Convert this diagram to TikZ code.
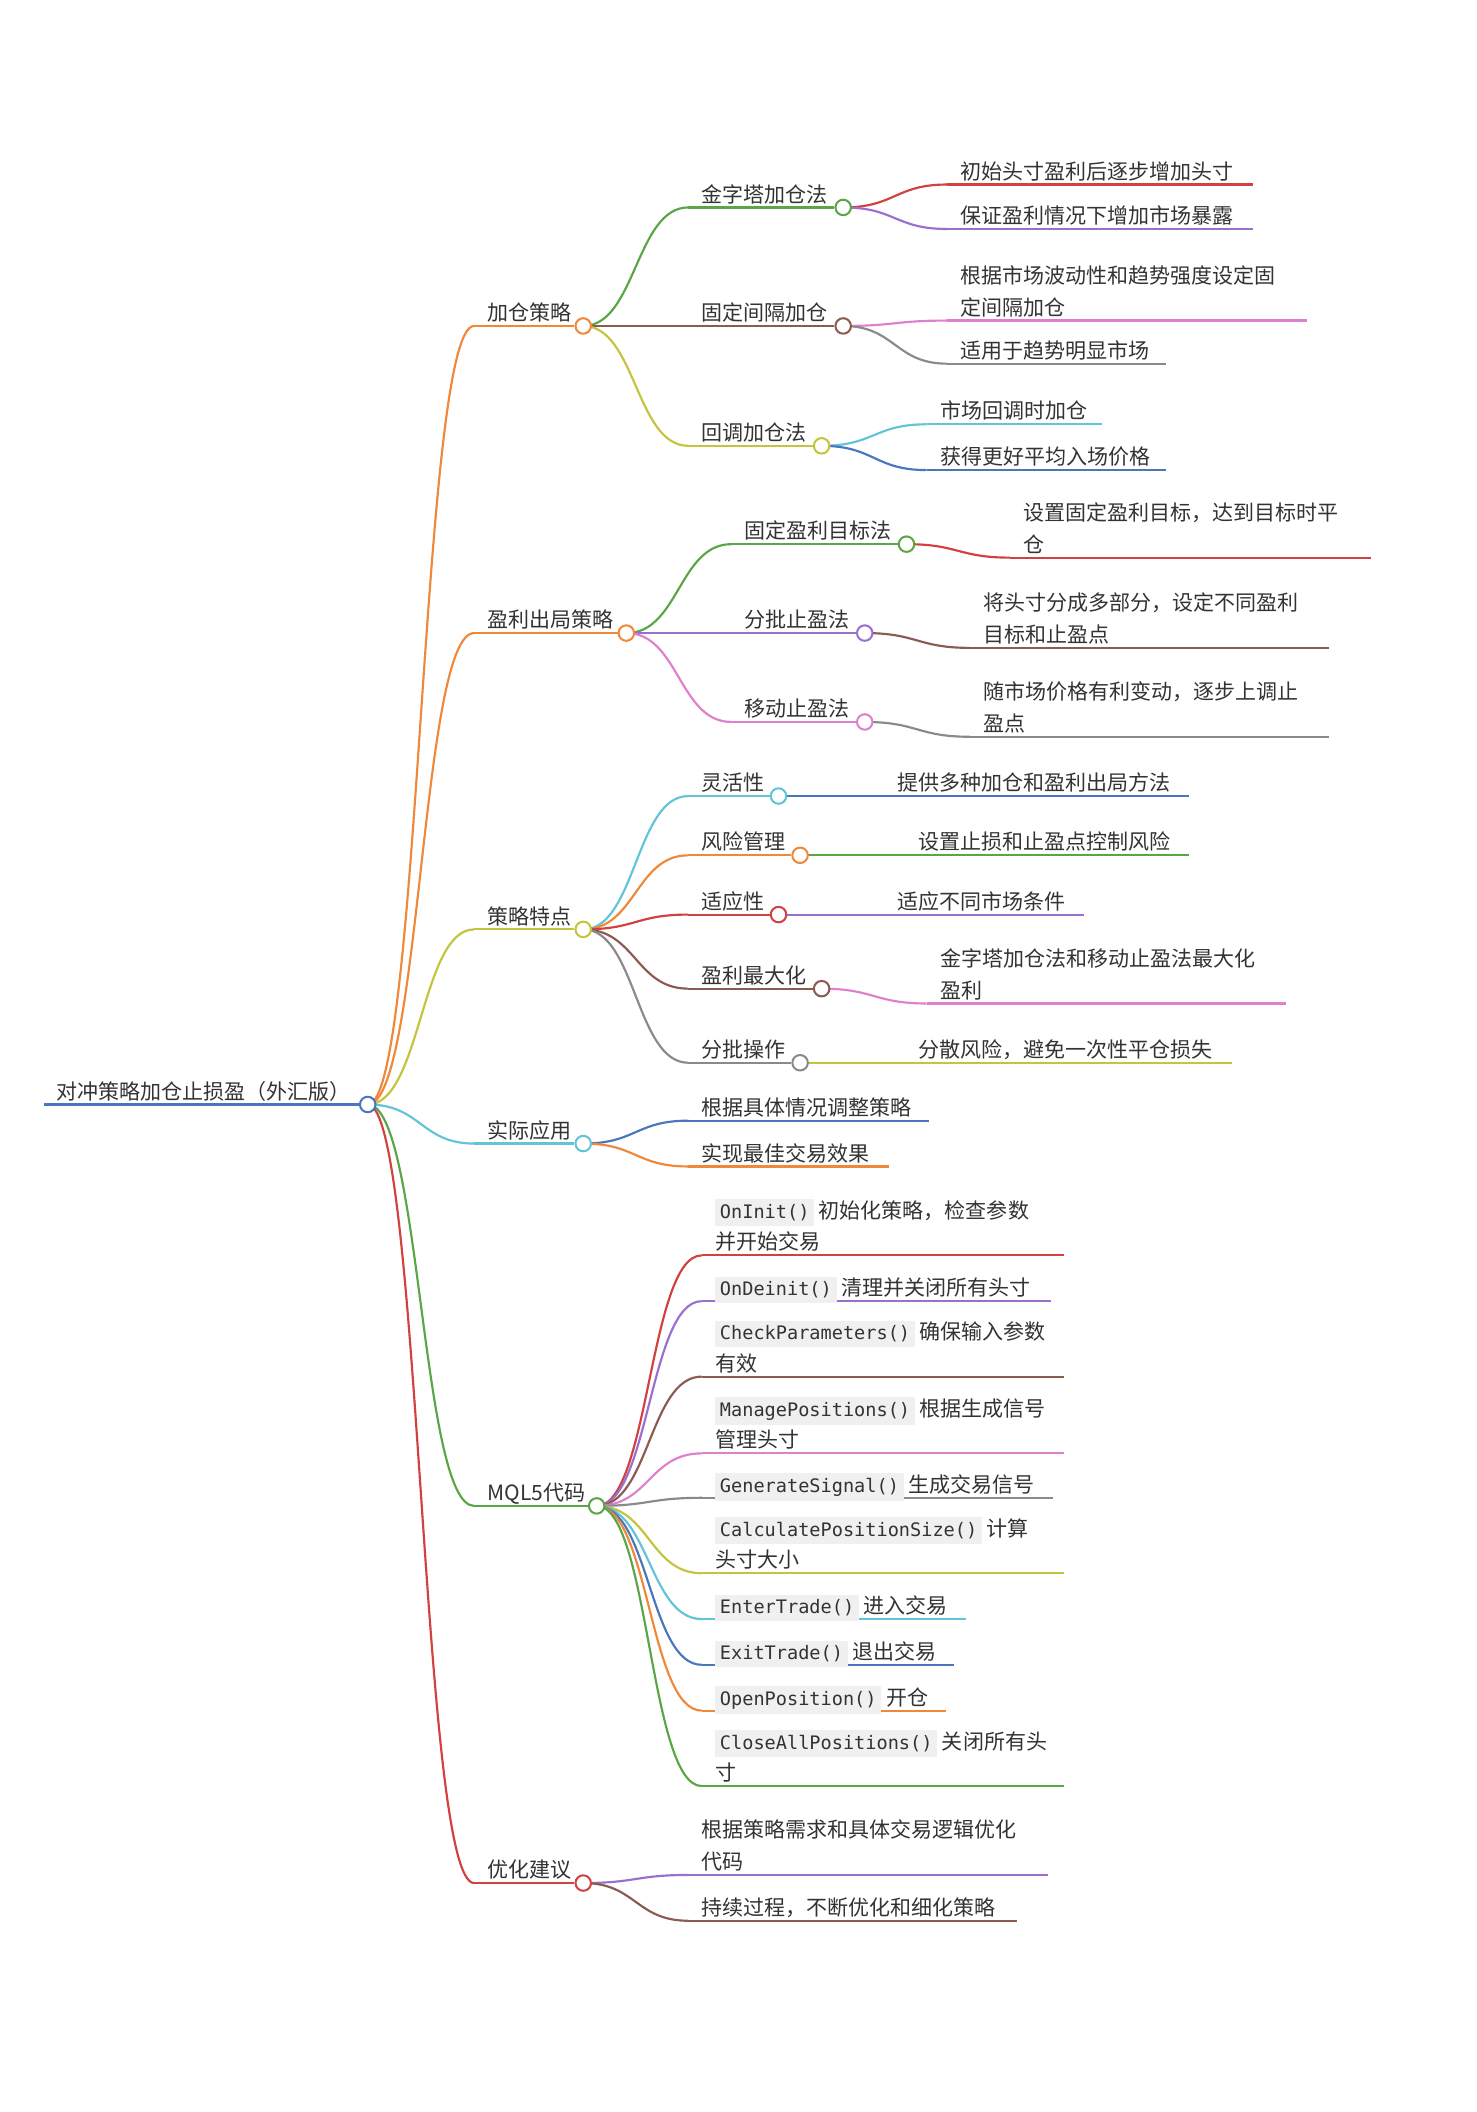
\documentclass[tikz,border=0pt]{standalone}
\usepackage{fontspec}
\setmainfont{Noto Sans CJK SC}
\newfontfamily\codefont{DejaVu Sans Mono}
\usetikzlibrary{calc}
\pgfdeclarelayer{bg}
\pgfsetlayers{bg,main}
\definecolor{mmblue}{HTML}{4A76BE}
\definecolor{mmorange}{HTML}{F0883A}
\definecolor{mmgreen}{HTML}{5AA646}
\definecolor{mmred}{HTML}{D0413F}
\definecolor{mmpurple}{HTML}{9A6FCF}
\definecolor{mmbrown}{HTML}{8B5A50}
\definecolor{mmpink}{HTML}{DE80CC}
\definecolor{mmgray}{HTML}{8A8A8A}
\definecolor{mmolive}{HTML}{C4C43E}
\definecolor{mmcyan}{HTML}{62C4D8}
\definecolor{textgray}{HTML}{333333}
\definecolor{codebg}{HTML}{F0F0F0}
\tikzset{
  dot/.style={circle, draw, fill=white, line width=1.5pt, minimum size=11.5pt, inner sep=0pt},
  lbl/.style={anchor=base west, inner sep=0pt, outer sep=0pt, text=textgray,
    font=\fontsize{15.6}{23.5}\selectfont},
  mmline/.style={line width=1.6pt},
}
\newcommand\tx[1]{\begin{tabular}[b]{@{}l@{}}#1\end{tabular}}
\newcommand\code[1]{{\setlength{\fboxsep}{3.5pt}\colorbox{codebg}{\codefont\fontsize{13.8}{16}\selectfont\rule[-2.2pt]{0pt}{12pt}#1}}}
\newcommand\mmlink[3]{%
  \draw[mmline,#1] let \p1=(#2), \p2=(#3) in (\p1) .. controls ({(\x1+\x2)/2},\y1) and ({(\x1+\x2)/2},\y2) .. (\p2);}
% name, parent, colour, x start, y, x circle, text
\newcommand\mmnode[7]{%
  \coordinate (#1-s) at (#4,#5);
  \node[dot,draw=#3] (#1) at (#6,#5) {};
  \node[lbl] (#1-t) at (#4+10,#5-4) {\tx{#7}};
  \begin{pgfonlayer}{bg}
    \mmlink{#3}{#2}{#1-s}
    \draw[mmline,#3] (#1-s) -- (#1);
  \end{pgfonlayer}}
% name, parent, colour, x start, y, x end, text
\newcommand\mmleaf[7]{%
  \coordinate (#1-s) at (#4,#5);
  \coordinate (#1-e) at (#6,#5);
  \node[lbl] (#1-t) at (#4+10,#5-4) {\tx{#7}};
  \begin{pgfonlayer}{bg}
    \mmlink{#3}{#2}{#1-s}
    \draw[mmline,#3] (#1-s) -- (#1-e);
  \end{pgfonlayer}}
\begin{document}
\begin{tikzpicture}[x=1pt,y=-1pt]
\useasboundingbox (0,0) rectangle (1096,1568);
\begin{pgfonlayer}{bg}
  \fill[white] (0,0) rectangle (1096,1568);
\end{pgfonlayer}
% root
\coordinate (root-s) at (33,820);
\node[dot,draw=mmblue] (root) at (273,820) {};
\node[lbl] (root-t) at (42,816) {\tx{对冲策略加仓止损盈（外汇版）}};
\begin{pgfonlayer}{bg}
  \draw[mmline,mmblue] (root-s) -- (root);
\end{pgfonlayer}
% level 1
\mmnode{A}{root}{mmorange}{352}{242}{433}{加仓策略}
\mmnode{B}{root}{mmorange}{352}{470}{465}{盈利出局策略}
\mmnode{C}{root}{mmolive}{352}{690}{433}{策略特点}
\mmnode{D}{root}{mmcyan}{352}{849}{433}{实际应用}
\mmnode{E}{root}{mmgreen}{352}{1118}{443}{MQL5代码}
\mmnode{F}{root}{mmred}{352}{1398}{433}{优化建议}
% A
\mmnode{A1}{A}{mmgreen}{511}{154}{626}{金字塔加仓法}
\mmnode{A2}{A}{mmbrown}{511}{242}{626}{固定间隔加仓}
\mmnode{A3}{A}{mmolive}{511}{331}{610}{回调加仓法}
\mmleaf{A1a}{A1}{mmred}{703}{137}{930}{初始头寸盈利后逐步增加头寸}
\mmleaf{A1b}{A1}{mmpurple}{703}{170}{930}{保证盈利情况下增加市场暴露}
\mmleaf{A2a}{A2}{mmpink}{703}{238}{970}{根据市场波动性和趋势强度设定固\\定间隔加仓}
\mmleaf{A2b}{A2}{mmgray}{703}{270}{866}{适用于趋势明显市场}
\mmleaf{A3a}{A3}{mmcyan}{688}{315}{818}{市场回调时加仓}
\mmleaf{A3b}{A3}{mmblue}{688}{349}{866}{获得更好平均入场价格}
% B
\mmnode{B1}{B}{mmgreen}{543}{404}{673}{固定盈利目标法}
\mmnode{B2}{B}{mmpurple}{543}{470}{642}{分批止盈法}
\mmnode{B3}{B}{mmpink}{543}{536}{642}{移动止盈法}
\mmleaf{B1a}{B1}{mmred}{750}{414}{1018}{设置固定盈利目标，达到目标时平\\仓}
\mmleaf{B2a}{B2}{mmbrown}{720}{481}{987}{将头寸分成多部分，设定不同盈利\\目标和止盈点}
\mmleaf{B3a}{B3}{mmgray}{720}{547}{987}{随市场价格有利变动，逐步上调止\\盈点}
% C
\mmnode{C1}{C}{mmcyan}{511}{591}{578}{灵活性}
\mmnode{C2}{C}{mmorange}{511}{635}{594}{风险管理}
\mmnode{C3}{C}{mmred}{511}{679}{578}{适应性}
\mmnode{C4}{C}{mmbrown}{511}{734}{610}{盈利最大化}
\mmnode{C5}{C}{mmgray}{511}{789}{594}{分批操作}
\mmleaf{C1a}{C1}{mmblue}{656}{591}{883}{提供多种加仓和盈利出局方法}
\mmleaf{C2a}{C2}{mmgreen}{672}{635}{883}{设置止损和止盈点控制风险}
\mmleaf{C3a}{C3}{mmpurple}{656}{679}{805}{适应不同市场条件}
\mmleaf{C4a}{C4}{mmpink}{688}{745}{955}{金字塔加仓法和移动止盈法最大化\\盈利}
\mmleaf{C5a}{C5}{mmolive}{672}{789}{915}{分散风险，避免一次性平仓损失}
% D
\mmleaf{D1}{D}{mmblue}{511}{832}{690}{根据具体情况调整策略}
\mmleaf{D2}{D}{mmorange}{511}{866}{660}{实现最佳交易效果}
% E
\mmleaf{E1}{E}{mmred}{521}{932}{790}{\code{OnInit()} 初始化策略，检查参数\\并开始交易}
\mmleaf{E2}{E}{mmpurple}{521}{966}{780}{\code{OnDeinit()} 清理并关闭所有头寸}
\mmleaf{E3}{E}{mmbrown}{521}{1022}{790}{\code{CheckParameters()} 确保输入参数\\有效}
\mmleaf{E4}{E}{mmpink}{521}{1079}{790}{\code{ManagePositions()} 根据生成信号\\管理头寸}
\mmleaf{E5}{E}{mmgray}{521}{1112}{782}{\code{GenerateSignal()} 生成交易信号}
\mmleaf{E6}{E}{mmolive}{521}{1168}{790}{\code{CalculatePositionSize()} 计算\\头寸大小}
\mmleaf{E7}{E}{mmcyan}{521}{1202}{717}{\code{EnterTrade()} 进入交易}
\mmleaf{E8}{E}{mmblue}{521}{1236}{708}{\code{ExitTrade()} 退出交易}
\mmleaf{E9}{E}{mmorange}{521}{1270}{702}{\code{OpenPosition()} 开仓}
\mmleaf{E10}{E}{mmgreen}{521}{1326}{790}{\code{CloseAllPositions()} 关闭所有头\\寸}
% F
\mmleaf{F1}{F}{mmpurple}{511}{1392}{778}{根据策略需求和具体交易逻辑优化\\代码}
\mmleaf{F2}{F}{mmbrown}{511}{1426}{755}{持续过程，不断优化和细化策略}
\end{tikzpicture}
\end{document}
